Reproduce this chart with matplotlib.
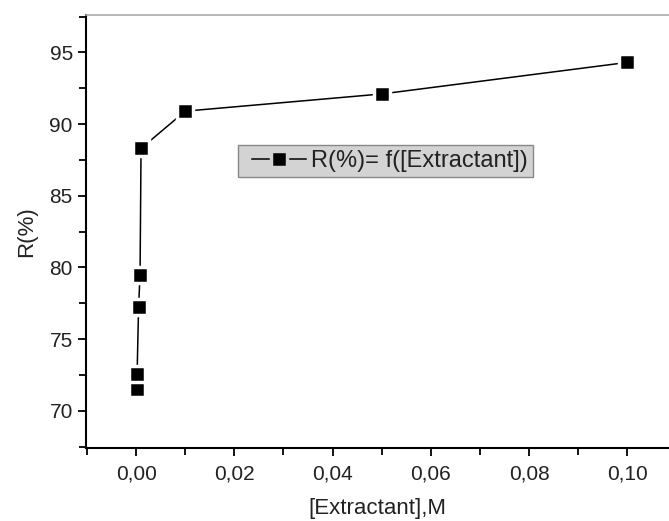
import matplotlib
matplotlib.use("Agg")
import matplotlib.pyplot as plt
from matplotlib.ticker import MultipleLocator, FuncFormatter
from matplotlib.lines import Line2D
from matplotlib.patches import Rectangle

plt.rcParams['font.family'] = ['Liberation Sans', 'DejaVu Sans']

conc = [0.0001, 0.0002, 0.0005, 0.0008, 0.001, 0.01, 0.05, 0.1]
recovery = [71.55, 72.6, 77.25, 79.5, 88.3, 90.9, 92.1, 94.3]
series_label = "R(%)= f([Extractant])"
xlabel = "[Extractant],M"
ylabel = "R(%)"

fig = plt.figure(figsize=(6.69, 5.21), dpi=100)
ax = fig.add_axes([0.1286, 0.140, 0.8714, 0.831])

ax.plot(conc, recovery, color='black', lw=1.1, marker='s', markersize=12,
        markerfacecolor='black', markeredgecolor='white', markeredgewidth=2.5,
        zorder=3)

ax.set_xlim(-0.0102, 0.1085)
ax.set_ylim(67.4, 97.6)
ax.xaxis.set_major_locator(MultipleLocator(0.02))
ax.xaxis.set_minor_locator(MultipleLocator(0.01))
ax.yaxis.set_major_locator(MultipleLocator(5))
ax.yaxis.set_minor_locator(MultipleLocator(2.5))
ax.xaxis.set_major_formatter(FuncFormatter(lambda v, p: f"{v:.2f}".replace('.', ',').replace('-0,00', '0,00')))
ax.yaxis.set_major_formatter(FuncFormatter(lambda v, p: f"{v:.0f}"))

for s in ['left', 'bottom']:
    ax.spines[s].set_linewidth(1.5)
    ax.spines[s].set_color('black')
ax.spines['right'].set_visible(False)
ax.spines['top'].set_color('#aaaaaa')
ax.spines['top'].set_linewidth(1.2)

ax.tick_params(which='both', direction='out', width=1.3, colors='black', labelcolor='#222222', labelsize=15)
ax.tick_params(which='major', length=6)
ax.tick_params(which='minor', length=5)
ax.tick_params(axis='x', pad=6)

ax.set_xlabel(xlabel, fontsize=16, color='#222222', labelpad=10)
ax.set_ylabel(ylabel, fontsize=16, color='#222222', labelpad=9)

# legend frame drawn as a patch for exact padding
ax.add_patch(Rectangle((0.2607, 0.6259), 0.5060, 0.0739, transform=ax.transAxes,
                       facecolor='#d3d3d3', edgecolor='#888888', lw=1.0, zorder=4))
handle = Line2D([], [], color='black', lw=1.1, marker='s', markersize=12,
                markerfacecolor='black', markeredgecolor='#d3d3d3', markeredgewidth=2.5)
leg = ax.legend([handle], [series_label], loc='center left', bbox_to_anchor=(0.2847, 0.6628),
                frameon=False, fontsize=17, handlelength=2.3, borderpad=0, handletextpad=0.2,
                borderaxespad=0)
leg.set_zorder(5)
for t in leg.get_texts():
    t.set_color('#222222')

fig.savefig('out.png', dpi=100)
